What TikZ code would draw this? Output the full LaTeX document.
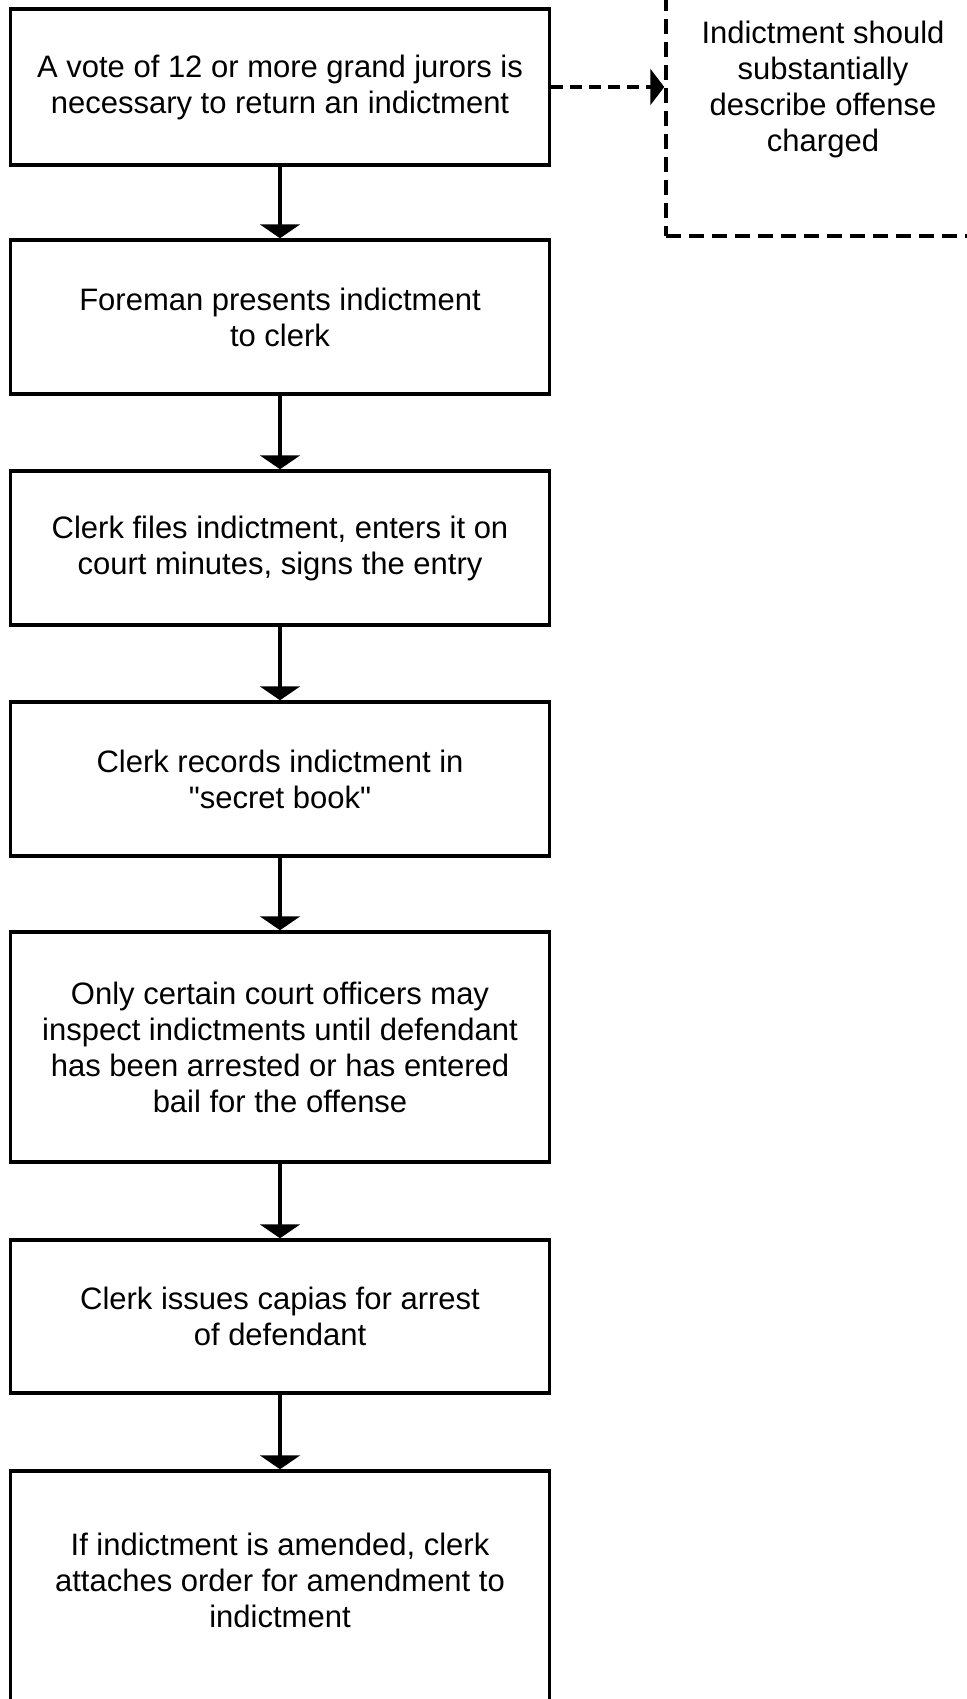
\documentclass[tikz,border=0pt]{standalone}
\usepackage{fontspec}
\setmainfont{Liberation Sans}
\newfontfamily\qf{Liberation Sans}[Ligatures=TeXOff]
\usetikzlibrary{arrows.meta}
\begin{document}
\begin{tikzpicture}[x=1pt,y=-1pt,
  box/.style={draw, line width=3.5pt, minimum width=539pt, inner sep=0pt},
  txt/.style={align=center, font=\fontsize{31}{36}\selectfont},
  flow/.style={line width=3.5pt, -{Triangle[width=40pt,length=14pt]}},
  side/.style={line width=4pt, dash pattern=on 12pt off 7pt, -{Triangle[width=36pt,length=14pt]}},
  dbox/.style={draw, line width=3.5pt, dash pattern=on 15pt off 8pt, inner sep=0pt}]
\useasboundingbox (0,0) rectangle (966,1699);
\node[box, minimum height=156pt, txt] (b1) at (280,87) {A vote of 12 or more grand jurors is\\necessary to return an indictment};
\node[box, minimum height=154pt, txt] (b2) at (280,317) {Foreman presents indictment\\to clerk};
\node[box, minimum height=154pt, txt] (b3) at (280,548) {Clerk files indictment, enters it on\\court minutes, signs the entry};
\node[box, minimum height=154pt, txt] (b4) at (280,779) {Clerk records indictment in\\{\qf"}secret book{\qf"}};
\node[box, minimum height=230pt, txt] (b5) at (280,1047) {Only certain court officers may\\inspect indictments until defendant\\has been arrested or has entered\\bail for the offense};
\node[box, minimum height=153pt, txt] (b6) at (280,1316.5) {Clerk issues capias for arrest\\of defendant};
\node[box, minimum height=249pt] (b7) at (280,1595.5) {};
\node[txt] (t7) at (280,1580) {If indictment is amended, clerk\\attaches order for amendment to\\indictment};
\node[dbox, minimum width=324pt, minimum height=256pt] (d1) at (828,108) {};
\node[txt] (td) at (823,89) {Indictment should\\substantially\\describe offense\\charged};
\draw[flow] (b1.south) -- (b2.north);
\draw[flow] (b2.south) -- (b3.north);
\draw[flow] (b3.south) -- (b4.north);
\draw[flow] (b4.south) -- (b5.north);
\draw[flow] (b5.south) -- (b6.north);
\draw[flow] (b6.south) -- (b7.north);
\draw[side] (b1.east) -- (d1.west |- b1.east);
\end{tikzpicture}
\end{document}
